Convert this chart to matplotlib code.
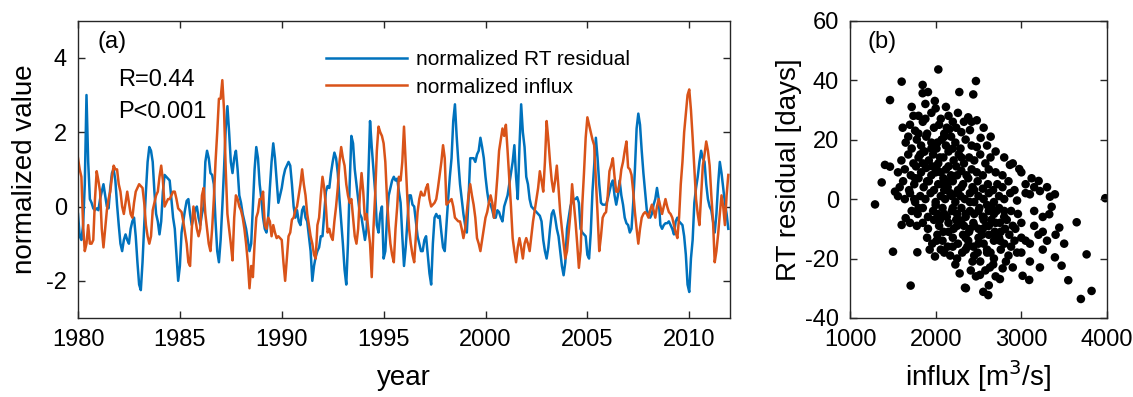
import numpy as np
import matplotlib
matplotlib.use("Agg")
import matplotlib.pyplot as plt

# ── Data ──────────────────────────────────────────────────────
# monthly normalized RT residual, Jan 1980 .. Dec 2011 (one row per year)
rt_resid_norm = [
    -0.2, -0.8, -0.9, -0.5, 0.6, 3.0, 1.2, 0.2, 0.1, -0.05, -0.1, -0.05,
    -0.1, 0.2, 0.4, 0.6, 0.3, 0.0, -0.05, 0.5, 0.9, 1.0, 0.7, 0.05,
    -0.5, -1.0, -1.2, -0.9, -0.75, -0.9, -1.0, -0.6, -0.4, -0.3, -0.8, -1.5,
    -2.1, -2.25, -1.5, -0.5, 0.4, 1.2, 1.6, 1.5, 1.2, 0.4, -0.2, -0.4,
    -0.75, -0.4, 0.4, 0.85, 0.8, 0.75, 0.7, 0.2, -0.3, -0.6, -1.3, -2.0,
    -1.6, -0.7, -0.4, -0.1, 0.15, 0.2, -0.2, -0.5, -0.3, -0.1, 0.0, -0.3,
    -0.5, -0.2, 0.0, 1.2, 1.5, 1.3, 0.9, 0.85, 0.6, -0.4, -1.2, -1.5,
    -0.9, 0.0, 1.0, 2.1, 2.7, 2.0, 1.2, 0.9, 1.3, 1.5, 1.0, 0.3,
    0.1, -0.2, -0.4, -0.6, -0.9, -1.2, -1.0, 0.0, 1.0, 1.6, 1.3, 0.6,
    0.2, -0.3, -0.6, -0.7, -0.3, 0.5, 1.2, 1.7, 1.3, 0.7, 0.1, 0.3,
    0.5, 0.8, 1.0, 1.1, 1.2, 1.1, 0.6, 0.0, -0.3, -0.1, -0.4, -0.5,
    -0.1, 0.0, -0.3, -0.4, -0.8, -1.2, -2.0, -1.6, -1.35, -1.2, -1.1, -0.8,
    -0.8, -0.2, 0.4, 0.55, 0.5, 0.9, 1.2, 1.45, 1.3, 0.9, 0.2, -0.4,
    -1.0, -1.7, -2.1, -1.0, 0.6, 1.9, 1.7, 1.0, 0.6, 0.2, -0.2, -0.3,
    -0.6, -0.9, -0.6, 0.8, 2.3, 1.6, 1.0, 0.4, -0.5, -0.7, -0.2, 0.0,
    -1.4, -1.2, -0.3, 0.3, 0.5, 0.7, 0.8, 0.7, 0.75, 0.4, 0.1, -0.8,
    -1.6, -1.1, -0.4, 0.3, 0.3, 0.05, 0.0, -0.4, -0.8, -1.0, -1.2, -1.2,
    -0.9, -0.8, -1.3, -1.8, -2.1, -1.0, -0.3, -0.2, -0.3, -0.25, -0.7, -1.1,
    -1.2, -0.5, 0.2, 0.8, 1.3, 2.3, 2.75, 1.9, 1.2, 0.6, 0.2, -0.2,
    -0.5, -0.7, 0.2, 1.3, 1.3, 1.3, 1.2, 1.4, 1.5, 1.85, 1.6, 1.3,
    0.8, 0.4, 0.1, 0.05, -0.1, -0.3, -0.3, -0.1, -0.15, -0.3, -0.4, 0.0,
    0.15, 0.3, 0.6, 0.9, 1.2, 1.65, 0.8, 0.2, 1.6, 2.75, 2.0, 1.6,
    0.8, 0.6, 0.2, 0.0, -0.05, -0.1, -0.15, -0.2, -0.25, -0.4, -0.9, -1.2,
    -1.4, -1.1, -0.6, -0.2, -0.1, -0.3, -0.6, -0.8, -1.2, -1.6, -1.85, -1.5,
    -0.6, -0.3, 0.0, 0.15, 0.2, 0.2, 0.25, 0.1, -0.6, -0.7, -0.75, -0.8,
    -1.3, -1.4, -0.7, 0.4, 1.1, 1.85, 1.3, 0.6, 0.1, 0.05, 0.05, 0.05,
    0.2, 0.4, 0.6, 0.7, 0.3, 0.05, 0.3, 0.7, 0.3, 0.05, -0.3, -0.45,
    -0.5, -0.7, -0.6, 0.1, 1.0, 2.1, 2.5, 2.2, 1.5, 0.9, 0.4, -0.1,
    -0.2, -0.3, -0.2, 0.05, 0.2, 0.5, 0.2, -0.5, -0.6, -0.5, -0.45, -0.45,
    -0.4, -0.5, -0.6, -0.75, -0.4, -0.3, -0.4, -0.45, -0.5, -0.8, -1.3, -2.1,
    -2.3, -1.4, -0.9, 0.1, 0.5, 0.8, 1.2, 1.5, 1.3, 1.2, 0.6, 0.2,
    0.0, -0.1, -0.4, -0.7, -0.2, 0.6, 1.2, 0.9, 0.5, 0.1, -0.2, -0.6,
]

# monthly normalized influx, same months
influx_norm = [
    1.3, 1.0, 0.8, -0.5, -1.2, -1.0, -0.5, -1.0, -1.0, -0.9, 0.2, 0.95,
    0.7, 0.4, -0.6, -1.1, -0.6, -0.1, 0.2, 0.4, 0.8, 1.1, 1.0, 1.0,
    0.6, 0.4, 0.0, -0.2, 0.1, 0.4, 0.1, -0.2, -0.3, 0.1, 0.4, 0.5,
    0.6, 0.55, 0.5, 0.1, -0.5, -0.8, -1.0, -0.8, -0.1, 0.1, 0.3, 0.4,
    0.8, 1.1, 0.7, 0.0, 0.1, 0.2, 0.2, 0.3, 0.4, 0.4, 0.2, -0.05,
    -0.1, -0.15, -0.4, -0.7, -1.0, -1.5, -1.6, -0.6, 0.0, -0.3, -0.6, -0.8,
    -0.6, 0.3, 0.5, -0.2, -0.6, -1.0, -1.2, -0.6, 0.2, 1.2, 2.0, 2.9,
    2.9, 3.4, 2.6, 1.0, -0.2, -0.6, -1.0, -1.45, -0.3, 0.3, 0.2, 0.0,
    -0.1, -0.3, -0.6, -1.0, -1.5, -2.2, -1.6, -1.9, -1.0, -0.3, -0.15, 0.2,
    0.2, 0.4, -0.5, -0.6, -0.3, -0.4, -0.8, -0.5, -0.7, -0.85, -0.8, -0.85,
    -0.9, -1.5, -2.0, -1.4, -0.8, -0.7, -0.35, -0.3, -0.1, 0.0, 0.3, 0.6,
    1.0, 0.6, 0.3, -0.2, -0.5, -0.8, -1.0, -1.3, -1.4, -0.5, -0.3, 0.3,
    0.8, 0.5, 0.0, -0.7, -0.6, -0.8, -0.9, -0.4, 0.0, 0.5, 1.2, 1.6,
    1.3, 1.1, 0.6, 0.3, 0.1, 0.2, -0.3, -0.8, -1.0, -0.6, 0.3, 0.9,
    0.4, -0.35, -0.2, -0.6, -1.0, -1.9, -0.6, 0.3, 1.5, 2.15, 2.0, 1.9,
    1.7, 1.2, 0.2, -0.5, -1.0, -1.3, -1.5, -0.6, 0.0, 0.8, 0.7, 1.2,
    2.15, 1.2, 0.2, -0.6, -1.0, -1.3, -1.5, -0.8, -0.15, 0.2, 0.4, 0.3,
    0.3, 0.5, 0.6, 0.2, 0.0, 0.05, 0.1, 0.2, 0.5, 0.85, 1.2, 1.65,
    1.3, 0.05, 0.1, 0.15, 0.2, 0.0, -0.3, -0.35, -0.4, -0.4, -0.6, -0.85,
    -0.6, -0.15, 0.3, 0.6, 0.3, 0.05, -0.3, -0.85, -1.0, -1.2, -0.9, -0.6,
    -0.3, -0.15, 0.1, 0.3, 0.1, -0.3, 0.2, 0.8, 1.5, 1.8, 2.1, 1.9,
    2.2, 1.5, 0.75, 0.0, -0.85, -1.2, -1.5, -1.1, -0.85, -1.1, -1.4, -1.0,
    -0.85, -1.0, -1.2, -0.8, -0.4, -0.1, 0.2, 0.5, 0.95, 0.7, 0.4, 1.2,
    2.3, 1.8, 1.2, 0.7, 0.4, 0.7, 1.1, 0.5, -0.15, -0.6, -1.0, -1.4,
    -1.2, -0.7, -0.2, 0.6, 0.1, -0.4, -1.0, -1.65, -1.2, 0.05, 0.9, 1.85,
    2.4, 2.2, 2.0, 1.8, 1.65, 0.75, -0.2, -1.2, -0.8, -0.3, -0.2, -0.15,
    0.3, 0.95, 1.1, 1.3, 0.8, 0.4, 0.4, 0.6, 1.0, 1.2, 1.5, 1.75,
    1.05, 1.0, 0.85, 0.4, -0.15, -0.6, -1.0, -0.6, -0.3, -0.2, -0.15, -0.2,
    -0.3, -0.1, 0.05, -0.1, -0.3, 0.0, 0.2, 0.0, -0.2, 0.0, 0.2, 0.0,
    -0.15, -0.2, -0.3, -0.5, -0.7, -0.85, -0.3, 0.6, 1.2, 2.0, 2.5, 3.0,
    3.15, 2.6, 1.85, 1.0, 0.2, -0.2, -0.5, 0.3, 1.1, 1.4, 1.75, 1.5,
    1.1, 0.3, -0.4, -1.5, -1.2, -0.75, -0.2, 0.3, 0.0, -0.5, 0.3, 0.85,
]

# scatter: influx [m3/s] vs RT residual [days]
influx_m3s = [
    2031, 2470, 1603, 1848, 2276, 2439, 1848,
    1467, 1720, 1800, 1880, 1950, 2000, 2060, 2150, 2380, 2480,
    1615, 1700, 1760, 1850, 1900, 1980, 2040, 2100, 2160, 2240, 2300, 2420, 2400, 2525, 2642, 2200,
    1650, 1720, 1780, 1830, 1890, 1950, 2010, 2070, 2120, 2180, 2230, 2290, 2350, 2420, 2480, 1870,
    1600, 1680, 1740, 1800, 1860, 1920, 1970, 2030, 2090, 2150, 2210, 2270, 2330, 2390, 2450, 2520, 2580, 2640,
    1408, 1467, 1560, 1640, 1710, 1770, 1830, 1890, 1950, 2010, 2060, 2120, 2180, 2240, 2300, 2360, 2420, 2480,
    2550, 2620, 2700, 2867, 2976, 2780,
    1370, 1525, 1580, 1620, 1690, 1750, 1800, 1860, 1920, 1980, 2030, 2090, 2140, 2200, 2260, 2320, 2380, 2430,
    2490, 2550, 2610, 2670, 2720, 2780, 2850, 2920, 3202, 3050, 3150,
    1292, 1560, 1640, 1700, 1760, 1820, 1880, 1940, 2000, 2060, 2110, 2170, 2230, 2290, 2340, 2400, 2450, 2500,
    2560, 2620, 2680, 2740, 2800, 2870, 2950, 3100, 3217, 3334, 3392, 3980,
    1650, 1720, 1790, 1850, 1910, 1970, 2020, 2080, 2130, 2190, 2250, 2300, 2350, 2400, 2450, 2510, 2560, 2620,
    2680, 2740, 2800, 2880, 2960, 3354, 3326, 3150,
    1603, 1780, 1850, 1910, 1980, 2040, 2090, 2150, 2210, 2270, 2330, 2390, 2440, 2500, 2560, 2620, 2690, 2750,
    2810, 2900, 3000, 3443, 3646, 3250,
    1900, 1960, 2020, 2080, 2140, 2200, 2260, 2320, 2380, 2440, 2500, 2560, 2620, 2680, 2740, 2800, 2860, 2920,
    3000, 3100, 3200,
    1502, 1786, 1992, 2100, 2250, 2350, 2450, 2520, 2600, 2680, 2760, 2850, 2950, 3100, 3392, 3762, 3250,
    2517, 2633, 2672, 2782, 2750, 3015, 3092, 3217, 3470, 3548, 2580,
    1708, 2342, 2353, 2556, 2614, 3695, 3820,
    # dense core
    2000, 2050, 2100, 2150, 2200, 2250, 2300, 2350, 2400, 2450, 2500, 2550, 2600, 2650, 2700,
    2100, 2150, 2200, 2250, 2300, 2350, 2400, 2450, 2500, 2550, 2600, 2650, 2700, 2750, 2800,
    1850, 1900, 1950, 2000, 2050, 2100, 2150, 2200, 2250, 2300, 1800, 1880, 1960, 2020, 2080,
    2130, 2190, 2240, 2310, 2370, 2430, 2490, 2540, 2590, 2640, 2710, 2760, 2830, 2880, 2930,
    1750, 1800, 1700, 1760, 1820, 1680, 1740, 1910, 1990, 2120, 2260, 2330, 1930, 2010, 2060,
    2170, 2230, 2280, 2410, 2470,
    2620, 2700, 2820, 2900, 3000, 3050, 3150, 3250, 3300, 3400, 3500, 3050, 3120, 3300, 3000,
    2900, 2800, 2700, 2600, 2560,
]
rt_resid_days = [
    43.6, 39.7, 39.5, 38.4, 36.0, 35.2, 35.6,
    33.3, 31, 28, 32, 29, 30.5, 27, 28, 27.5, 26.5,
    24, 25, 23, 26, 22, 24, 25, 22, 23.5, 24, 22.5, 26, 23.2, 20.6, 21, 26,
    19, 17, 20, 18, 21, 19, 17, 20, 18, 21, 19, 17, 20, 18, 17.5, 16,
    13, 15, 12, 14, 16, 13, 15, 12, 14, 16, 13, 15, 12, 14, 13, 15, 12, 14,
    11.5, 10.9, 9, 10, 8, 11, 9, 10.5, 8, 11, 9, 10, 8, 11, 9.5, 8, 10, 9,
    8, 10, 9, 11.5, 10.1, 8,
    5.6, 2.5, 4, 6, 3, 5, 7, 4, 6, 3, 5, 7, 4, 6, 3, 5, 7, 4,
    6, 3.5, 5, 3, 5, 4, 6, 3, 6.1, 5, 4,
    -1.8, 1, 0, 2, -1, 1, 0, 2, -1, 1, 0, 2, -1, 1, 0, 2, -1, 1,
    0, 2, -1, 1, 0, 2, -0.5, 1.6, 2.7, 0.8, 1.6, 0.3,
    -6.4, -4, -5, -3, -6, -4, -5, -3, -6, -4, -5, -3, -6, -4, -5, -3, -6, -4,
    -5, -3, -6, -4, -5, -2.6, -5.1, -4,
    -8.7, -9, -8, -10, -7, -9, -11, -8, -10, -7, -9, -11, -8, -10, -7, -9, -11, -8,
    -10, -9, -8, -9.6, -7.8, -11,
    -13, -15, -12, -14, -16, -13, -15, -12, -14, -16, -13, -15, -12, -14, -13, -15, -12, -14,
    -13, -15, -12,
    -17.7, -17.9, -19.3, -18, -20, -17, -19, -21, -18, -20, -17, -19, -18, -21, -19.6, -18.6, -17,
    -25.5, -23, -22, -23.3, -26.9, -25.8, -27.2, -23, -22.4, -27.3, -24,
    -29.1, -29.8, -30, -31.2, -32.3, -33.6, -30.9,
    # dense core
    -2, -7, 3, -11, -3, 2, -8, -13, -1, -9, -4, -10, -2, -7, -12,
    -5, 6, -16, -9, 4, -5, -10, 3, -15, -6, -17, -3, -8, -14, -4,
    12, 6, 17, 9, 14, 21, 11, 17, 8, 14, 22, 27, 11, 19, 5,
    24, 1, -7, -18, -16, -21, -18, -12, -9, -18, -4, -11, -7, -16, -10,
    0, -3, -8, 7, 15, 21, 28, 36, 33, 31, 29, 26, -17, -14, -17,
    -19, -22, -25, -24, -26,
    -29, -26, -21, -23, -18, -14, -9, -6, -14, -12, -15, 2, 7, 4, 9,
    12, 14, 16, 18, 24,
]

year_ticks = [1980, 1985, 1990, 1995, 2000, 2005, 2010]

# ── Style ─────────────────────────────────────────────────────
plt.rcParams['font.family'] = ['Liberation Sans', 'DejaVu Sans']
plt.rcParams['axes.unicode_minus'] = False
blue = '#0072BD'
orange = '#D95319'
edge = '#262626'

W, H = 1133, 397
fig = plt.figure(figsize=(W / 100, H / 100), dpi=100)

bottom = 1 - 318 / H
height = (318 - 20.7) / H
ax1 = fig.add_axes([78 / W, bottom, (730 - 78) / W, height])
ax2 = fig.add_axes([850 / W, bottom, 257 / W, height])


def matlab_box(ax):
    for s in ax.spines.values():
        s.set_color(edge)
        s.set_linewidth(1.0)
    ax.tick_params(direction='in', length=5, width=1.0, color=edge,
                   top=True, right=True, labelsize=17, pad=8)


# ── (a) time series ───────────────────────────────────────────
t = 1980 + np.arange(len(rt_resid_norm)) / 12
ax1.plot(t, rt_resid_norm, color=blue, lw=1.8, label='normalized RT residual')
ax1.plot(t, influx_norm, color=orange, lw=1.8, label='normalized influx')
ax1.set_xlim(1980, 2012)
ax1.set_ylim(-3, 5)
ax1.set_xticks(year_ticks)
ax1.set_yticks([-2, 0, 2, 4])
matlab_box(ax1)
ax1.set_xlabel('year', fontsize=20, labelpad=10)
ax1.set_ylabel('normalized value', fontsize=20, labelpad=6)
ax1.text(0.03, 0.965, '(a)', transform=ax1.transAxes, fontsize=17, va='top')
ax1.text(0.062, 0.80, 'R=0.44', transform=ax1.transAxes, fontsize=17, va='center')
ax1.text(0.062, 0.693, 'P<0.001', transform=ax1.transAxes, fontsize=17, va='center')
ax1.legend(loc='upper left', bbox_to_anchor=(326 / W, 1 - 50 / H),
           bbox_transform=fig.transFigure, frameon=False, fontsize=15,
           handlelength=3.9, handletextpad=0.4, labelspacing=0.42,
           borderpad=0, borderaxespad=0)

# ── (b) scatter ───────────────────────────────────────────────
ax2.scatter(influx_m3s, rt_resid_days, s=38, color='black', edgecolors='none')
ax2.set_xlim(1000, 4000)
ax2.set_ylim(-40, 60)
ax2.set_xticks([1000, 2000, 3000, 4000])
ax2.set_yticks([-40, -20, 0, 20, 40, 60])
matlab_box(ax2)
ax2.set_xlabel('influx [m$^3$/s]', fontsize=20, labelpad=5)
ax2.set_ylabel('RT residual [days]', fontsize=20, labelpad=2)
ax2.text(0.07, 0.965, '(b)', transform=ax2.transAxes, fontsize=17, va='top')

fig.savefig('out.png', dpi=100)
